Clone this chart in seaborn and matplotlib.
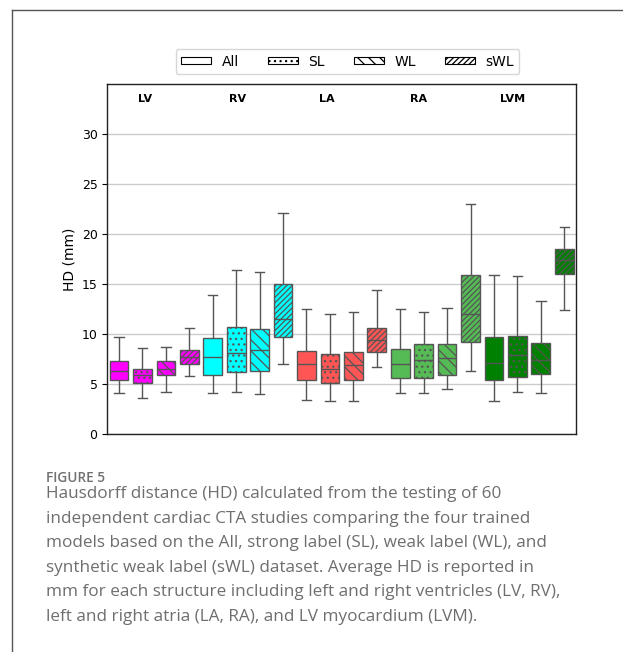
import numpy as np
import pandas as pd
import matplotlib
matplotlib.use("Agg")
import matplotlib.pyplot as plt
import seaborn as sns
from matplotlib.patches import Patch
from matplotlib.lines import Line2D

# ---------------- data ----------------
structures = ["LV", "RV", "LA", "RA", "LVM"]
models = ["All", "SL", "WL", "sWL"]
structure_colors = ["#ff00ff", "#00ffff", "#ff5555", "#55bb55", "#008000"]
model_hatches = ["", "...", "\\\\\\", "//////"]

# box statistics in structure-major order (LV-All, LV-SL, ..., LVM-sWL)
whisker_low = [4.09, 3.59, 4.25, 5.81,
               4.09, 4.25, 3.99, 7.01,
               3.42, 3.32, 3.32, 6.68,
               4.09, 4.09, 4.55, 6.35,
               3.32, 4.25, 4.09, 12.46]
q1 = [5.42, 5.08, 5.95, 7.01,
      5.95, 6.21, 6.35, 9.73,
      5.42, 5.08, 5.42, 8.24,
      5.65, 5.65, 5.95, 9.27,
      5.42, 5.75, 6.01, 15.98]
median = [6.35, 5.90, 6.54, 7.74,
          7.77, 8.14, 8.47, 11.53,
          7.01, 6.54, 6.88, 9.40,
          7.01, 7.41, 7.67, 11.99,
          7.11, 7.90, 7.41, 17.38]
q3 = [7.34, 6.54, 7.34, 8.47,
      9.63, 10.73, 10.53, 15.05,
      8.31, 8.01, 8.21, 10.66,
      8.54, 9.07, 9.07, 15.88,
      9.73, 9.80, 9.14, 18.50]
whisker_high = [9.73, 8.60, 8.74, 10.66,
                13.89, 16.45, 16.25, 22.13,
                12.56, 11.99, 12.23, 14.39,
                12.56, 12.19, 12.66, 23.02,
                15.91, 15.78, 13.32, 20.70]

caption_title = "FIGURE 5"
caption_lines = [
    "Hausdorff distance (HD) calculated from the testing of 60",
    "independent cardiac CTA studies comparing the four trained",
    "models based on the All, strong label (SL), weak label (WL), and",
    "synthetic weak label (sWL) dataset. Average HD is reported in",
    "mm for each structure including left and right ventricles (LV, RV),",
    "left and right atria (LA, RA), and LV myocardium (LVM).",
]

# ---------------- build long table ----------------
labels, colors, hatches, rows = [], [], [], []
k = 0
for si, s in enumerate(structures):
    for mi, m in enumerate(models):
        lab = f"{s}-{m}"
        labels.append(lab)
        colors.append(structure_colors[si])
        hatches.append(model_hatches[mi])
        for v in (whisker_low[k], q1[k], median[k], q3[k], whisker_high[k]):
            rows.append({"box": lab, "HD": v})
        k += 1
df = pd.DataFrame(rows)

# ---------------- figure ----------------
W, H = 623, 652
fig = plt.figure(figsize=(W / 100, H / 100), dpi=100)
plt.rcParams["hatch.linewidth"] = 0.9

ax = fig.add_axes([107.3 / W, 1 - 434.3 / H, 468.7 / W, 350.3 / H])
sns.boxplot(data=df, x="box", y="HD", hue="box", order=labels, hue_order=labels,
            palette=colors, legend=False, dodge=False, width=0.8,
            whis=(0, 100), showfliers=False, saturation=1,
            linecolor="#555555", linewidth=1.0, ax=ax)

# hatches per model, applied in left-to-right order
boxes = [p for p in ax.patches]
boxes.sort(key=lambda p: p.get_path().vertices[:, 0].mean())
for p, h in zip(boxes, hatches):
    p.set_hatch(h)
    p.set_edgecolor("#555555")

ax.set_xlim(-0.5, len(labels) - 0.5)
ax.set_ylim(0, 35)
ax.set_yticks([0, 5, 10, 15, 20, 25, 30])
ax.set_xticks([])
ax.set_xlabel("")
ax.set_ylabel("HD (mm)", fontsize=10)
ax.tick_params(axis="y", labelsize=9, length=3.5)
ax.yaxis.grid(True, color="#cccccc", linewidth=1.0)
ax.set_axisbelow(True)
for sp in ax.spines.values():
    sp.set_color("#222222")
    sp.set_linewidth(1.0)

label_x = [0.0804, 0.2778, 0.468, 0.6635, 0.8656]
for s, xf in zip(structures, label_x):
    ax.text(xf, 0.956, s, transform=ax.transAxes, ha="center", va="center",
            fontsize=8, fontweight="bold")

handles = [Patch(facecolor="white", edgecolor="black", hatch=h, linewidth=0.8)
           for h in model_hatches]
fig.legend(handles, models, loc="center", ncol=4,
           bbox_to_anchor=(347.5 / W, 1 - 61.5 / H),
           fontsize=10, handlelength=2.15, handleheight=0.45,
           handletextpad=0.75, columnspacing=2.1, frameon=True)

# page frame
fig.add_artist(Line2D([12 / W, 12 / W], [0, 1 - 10 / H], transform=fig.transFigure,
                      color="#555555", linewidth=1.0))
fig.add_artist(Line2D([12 / W, 1], [1 - 10 / H, 1 - 10 / H], transform=fig.transFigure,
                      color="#555555", linewidth=1.0))

# caption
fig.text(46 / W, 1 - 482 / H, caption_title, fontsize=9.8, color="#707070",
         family=["Open Sans", "DejaVu Sans"], fontweight="semibold", va="baseline")
for i, line in enumerate(caption_lines):
    fig.text(46 / W, 1 - (498 + 24.6 * i) / H, line, fontsize=12.3, color="#6e6e6e",
             family=["Open Sans", "DejaVu Sans"], va="baseline")

fig.savefig("out.png", dpi=100)
